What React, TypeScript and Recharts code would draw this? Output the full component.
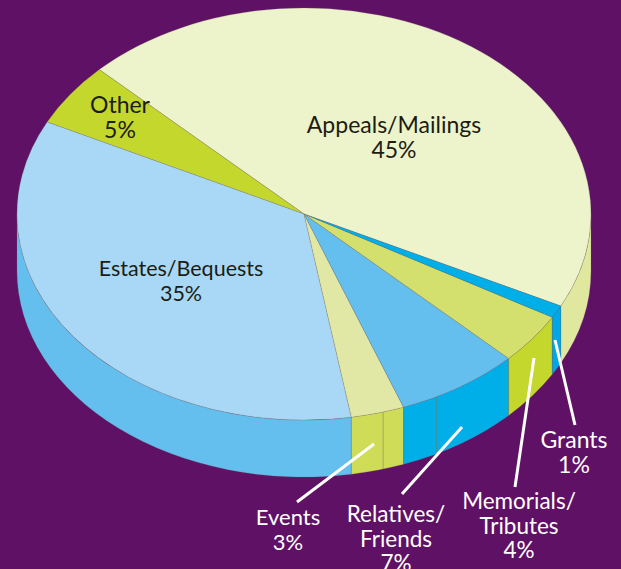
// Funding sources shown as a tilted 3D pie
import { PieChart, Pie } from 'recharts'

const categories = ['Appeals/Mailings', 'Other', 'Estates/Bequests', 'Events', 'Relatives/Friends', 'Memorials/Tributes', 'Grants']
const values = [45, 5, 35, 3, 7, 4, 1]
const topColors = ['#EDF3CA', '#C3D72C', '#A8D8F5', '#E1E8A6', '#64BEEE', '#D3E06E', '#00AEE8']
const wallColors = ['#DFE89E', '#C3D72C', '#64BEEE', '#CEDC58', '#00AEE8', '#C3D72C', '#00A6E6']
// extra vertical joins on the rim, in pie degrees
const wallSeams = [286, 297.5]

const WIDTH = 621
const HEIGHT = 569
const CX = 304
const CY = 214
const RADIUS = 287
const SQUASH = 0.718
const DEPTH = 57
const START_ANGLE = -26.5
const FONT = 'Lato, "Open Sans", sans-serif'

const topRows = categories.map((name, i) => ({ name, value: values[i], fill: topColors[i] }))
const wallRows = categories.map((name, i) => ({ name, value: values[i], fill: wallColors[i] }))

const rad = (deg: number) => (deg * Math.PI) / 180

function rim(cx: number, cy: number, r: number, deg: number, drop = 0) {
  const x = cx + r * Math.cos(rad(deg))
  const y = cy - r * SQUASH * Math.sin(rad(deg)) + drop
  return `${x.toFixed(2)} ${y.toFixed(2)}`
}

// top face: same angles as recharts gives, flattened into an ellipse
function TopSlice(props: any) {
  const { cx, cy, outerRadius: r, startAngle, endAngle, fill } = props
  const large = Math.abs(endAngle - startAngle) > 180 ? 1 : 0
  const d = `M ${cx} ${cy} L ${rim(cx, cy, r, startAngle)} A ${r} ${r * SQUASH} 0 ${large} 0 ${rim(cx, cy, r, endAngle)} Z`
  return <path d={d} fill={fill} stroke="#77775a" strokeOpacity={0.45} strokeWidth={0.5} />
}

// side wall: only the part of a slice that faces the viewer
function WallSlice(props: any) {
  const { cx, cy, outerRadius: r, startAngle, endAngle, fill } = props
  const parts: any[] = []
  ;[-360, 0, 360].forEach((k) => {
    const lo = Math.max(startAngle, 180 + k)
    const hi = Math.min(endAngle, 360 + k)
    if (hi <= lo) return
    const d = `M ${rim(cx, cy, r, lo)} A ${r} ${r * SQUASH} 0 0 0 ${rim(cx, cy, r, hi)} L ${rim(cx, cy, r, hi, DEPTH)} A ${r} ${r * SQUASH} 0 0 1 ${rim(cx, cy, r, lo, DEPTH)} Z`
    parts.push(<path key={k} d={d} fill={fill} stroke="#77775a" strokeOpacity={0.4} strokeWidth={0.5} />)
    wallSeams.forEach((s) => {
      if (s > lo && s < hi) {
        parts.push(<path key={`${k}-${s}`} d={`M ${rim(cx, cy, r, s)} L ${rim(cx, cy, r, s, DEPTH)}`} stroke="#77775a" strokeOpacity={0.6} strokeWidth={0.8} />)
      }
    })
  })
  return <g>{parts}</g>
}

const sliceLabels = [
  { lines: ['Appeals/Mailings', '45%'], x: 394, y: 133, size: 23, color: '#1c1c14' },
  { lines: ['Other', '5%'], x: 120, y: 113, size: 23, color: '#1c1c14' },
  { lines: ['Estates/Bequests', '35%'], x: 181, y: 276, size: 21.5, color: '#1c1c14' },
  { lines: ['Events', '3%'], x: 288, y: 525, size: 22, color: '#fff' },
  { lines: ['Relatives/', 'Friends', '7%'], x: 396, y: 522, size: 22.5, color: '#fff' },
  { lines: ['Memorials/', 'Tributes', '4%'], x: 519, y: 509, size: 22.5, color: '#fff' },
  { lines: ['Grants', '1%'], x: 574, y: 448, size: 23, color: '#fff' },
]

const leaders = [
  [374, 444, 297, 502],
  [462, 427, 402, 494],
  [534, 358, 515, 487],
  [555, 340, 575, 425],
]

// sits over the chart, recharts paints its pies above chart children
function Annotations() {
  return (
    <svg width={WIDTH} height={HEIGHT} style={{ position: 'absolute', left: 0, top: 0 }}>
      {leaders.map(([x1, y1, x2, y2], i) => (
        <line key={i} x1={x1} y1={y1} x2={x2} y2={y2} stroke="#fff" strokeWidth={3} />
      ))}
      {sliceLabels.map((l) => (
        <text key={l.lines[0]} textAnchor="middle" fontFamily={FONT} fontSize={l.size} fill={l.color}>
          {l.lines.map((t, i) => (
            <tspan key={t} x={l.x} y={l.y + i * 24.5}>{t}</tspan>
          ))}
        </text>
      ))}
    </svg>
  )
}

export default function App() {
  return (
    <div style={{ position: 'fixed', left: 0, top: 0, width: WIDTH, height: HEIGHT, background: '#5F1166', overflow: 'hidden' }}>
      <PieChart width={WIDTH} height={HEIGHT} margin={{ top: 0, right: 0, bottom: 0, left: 0 }}>
        <Pie data={wallRows} dataKey="value" nameKey="name" cx={CX} cy={CY} outerRadius={RADIUS} startAngle={START_ANGLE} endAngle={START_ANGLE + 360} shape={WallSlice} isAnimationActive={false} />
        <Pie data={topRows} dataKey="value" nameKey="name" cx={CX} cy={CY} outerRadius={RADIUS} startAngle={START_ANGLE} endAngle={START_ANGLE + 360} shape={TopSlice} isAnimationActive={false} />
      </PieChart>
      <Annotations />
    </div>
  )
}
